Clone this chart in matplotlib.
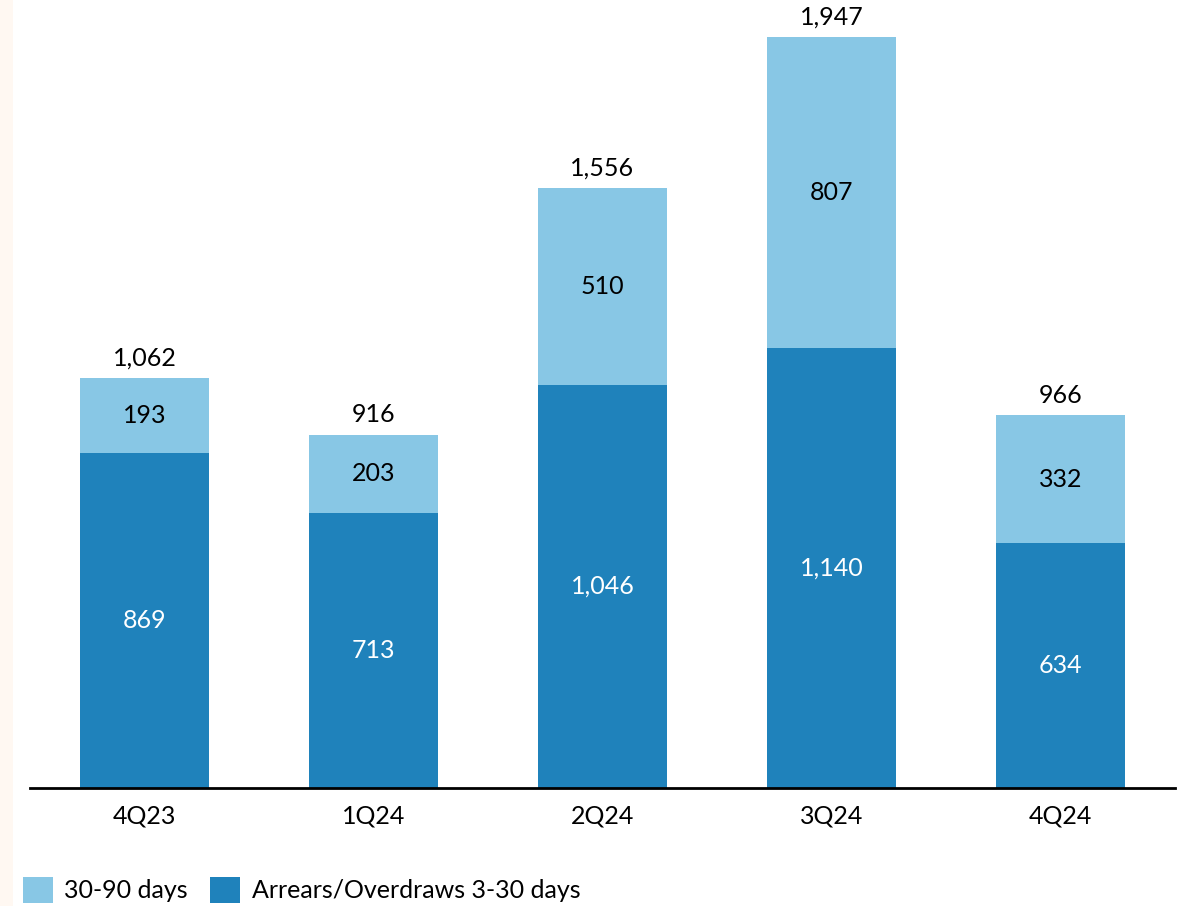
import matplotlib as mp
mp.use('agg')
import matplotlib.pyplot as plt
from matplotlib.patches import Rectangle, Patch

# quarterly arrears, split by days overdue
quarters = ['4Q23', '1Q24', '2Q24', '3Q24', '4Q24']
short_arrears = [869, 713, 1046, 1140, 634]   # 3-30 days
long_arrears = [193, 203, 510, 807, 332]      # 30-90 days
totals = [1062, 916, 1556, 1947, 966]

LIGHT = '#88C7E5'
DARK = '#1F82BB'


def main():
    plt.rcParams['font.family'] = ['Lato', 'DejaVu Sans']
    fig = plt.figure(figsize=(11.86, 9.06), dpi=100)

    # thin cream strip down the left edge
    fig.patches.append(Rectangle((0, 0), 13 / 1186, 1, transform=fig.transFigure,
                                 facecolor='#FFF8F2', edgecolor='none', zorder=0))

    ax = fig.add_axes([30 / 1186, 118 / 906, 1145 / 1186, 788 / 906])
    x = list(range(len(quarters)))
    width = 0.56

    ax.bar(x, short_arrears, width, color=DARK)
    ax.bar(x, long_arrears, width, bottom=short_arrears, color=LIGHT)

    for i in x:
        ax.text(i, short_arrears[i] / 2, f'{short_arrears[i]:,}', ha='center',
                va='center', color='white', fontsize=18)
        ax.text(i, short_arrears[i] + long_arrears[i] / 2, f'{long_arrears[i]:,}',
                ha='center', va='center', color='black', fontsize=18)
        ax.annotate(f'{totals[i]:,}', (i, totals[i]), xytext=(0, 6),
                    textcoords='offset points', ha='center', va='bottom',
                    color='black', fontsize=18)

    ax.set_xlim(-0.5, 4.5)
    ax.set_ylim(0, 2043)
    ax.set_xticks(x)
    ax.set_xticklabels(quarters, fontsize=18)
    ax.tick_params(axis='x', length=0, pad=12)
    ax.set_yticks([])
    for side in ['top', 'right', 'left']:
        ax.spines[side].set_visible(False)
    ax.spines['bottom'].set_linewidth(2)
    ax.patch.set_visible(False)

    handles = [Patch(facecolor=LIGHT, label='30-90 days'),
               Patch(facecolor=DARK, label='Arrears/Overdraws 3-30 days')]
    fig.legend(handles=handles, loc='center left', bbox_to_anchor=(23 / 1186, 16 / 906),
               ncol=2, frameon=False, fontsize=18, handlelength=1.2,
               handleheight=1.2, handletextpad=0.45, columnspacing=0.9,
               borderpad=0, borderaxespad=0)

    fig.savefig('out.png', dpi=100)


if __name__ == '__main__':
    main()
